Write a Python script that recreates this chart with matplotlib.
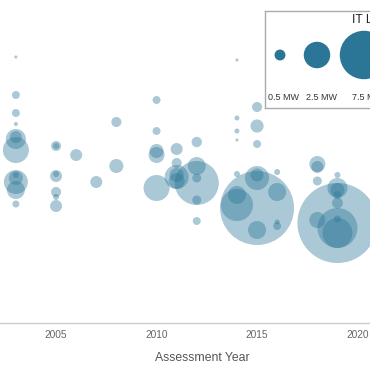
import matplotlib
matplotlib.use("Agg")
import matplotlib.pyplot as plt
import numpy as np

plt.rcParams['font.family'] = ['Liberation Sans', 'DejaVu Sans']

# ---- data: assessment year, score (arbitrary y units), IT load (MW)
years = [2003, 2003, 2003, 2003, 2003, 2003, 2003, 2003, 2003, 2003, 2003, 2003,
         2005, 2005, 2005, 2005, 2005, 2005, 2005,
         2006, 2007, 2008, 2008,
         2010, 2010, 2010, 2010, 2010,
         2011, 2011, 2011, 2011, 2011,
         2012, 2012, 2012, 2012, 2012, 2012,
         2014, 2014, 2014, 2014, 2014, 2014, 2014,
         2015, 2015, 2015, 2015, 2015, 2015, 2015,
         2016, 2016, 2016, 2016,
         2018, 2018, 2018, 2018,
         2019, 2019, 2019, 2019, 2019, 2019, 2019, 2019, 2019]
scores = [26.6, 22.8, 21.0, 19.9, 18.4, 18.6, 17.3, 14.1, 14.5, 13.3, 14.8, 11.9,
          17.7, 17.7, 14.7, 14.9, 13.1, 12.6, 11.7,
          16.8, 14.1, 20.1, 15.7,
          22.3, 19.2, 16.8, 17.2, 13.5,
          17.4, 16.0, 14.6, 14.8, 14.2,
          18.1, 15.7, 14.0, 14.5, 12.3, 10.2,
          26.3, 20.5, 19.2, 18.3, 14.9, 11.8, 12.8,
          21.6, 19.7, 17.9, 11.5, 14.5, 14.8, 9.3,
          15.1, 13.1, 9.7, 10.1,
          15.9, 15.6, 14.2, 10.3,
          14.8, 13.5, 13.3, 12.8, 12.0, 10.0, 9.5, 9.0, 10.4]
it_load = [0.05, 0.28, 0.28, 0.08, 1.5, 0.59, 2.42, 2.09, 0.79, 1.24, 0.17, 0.22,
           0.43, 0.17, 0.59, 0.17, 0.43, 0.17, 0.59,
           0.59, 0.59, 0.43, 0.79,
           0.28, 0.28, 1.0, 0.79, 2.42,
           0.59, 0.43, 2.09, 0.79, 1.0,
           0.45, 1.24, 6.29, 0.35, 0.35, 0.28,
           0.05, 0.12, 0.12, 0.05, 0.17, 3.53, 1.24,
           0.43, 0.7, 0.28, 16.2, 2.09, 0.7, 1.24,
           0.17, 1.24, 0.28, 0.12,
           1.0, 0.59, 0.35, 1.0,
           0.17, 1.5, 0.79, 0.28, 0.5, 18.65, 5.29, 3.14, 0.22]

legend_loads = [0.5, 2.5, 7.5]
legend_labels = ["0.5 MW", "2.5 MW", "7.5 MW"]
xticks = [2005, 2010, 2015, 2020]

COLOR = '#2b7697'
W = H = 370
DPI = 100


def radius_px(mw):
    return 8.0 * np.power(np.asarray(mw, dtype=float), 0.55)


def size_pts2(mw):
    r_pt = radius_px(mw) * 72.0 / DPI
    return (2 * r_pt) ** 2


fig = plt.figure(figsize=(W / DPI, H / DPI), dpi=DPI)
axis_y_px = 323
ax = fig.add_axes([0, (H - axis_y_px) / H, 1, axis_y_px / H])
ax.set_xlim(2002.21, 2020.62)
ax.set_ylim(0, 32.3)

ax.scatter(years, scores, s=size_pts2(it_load), color=COLOR, alpha=0.4,
           linewidths=0, clip_on=False)

for sp in ['top', 'right', 'left']:
    ax.spines[sp].set_visible(False)
ax.spines['bottom'].set_color('#cccccc')
ax.spines['bottom'].set_linewidth(1.0)
ax.set_yticks([])
ax.set_xticks(xticks)
ax.set_xticklabels([str(t) for t in xticks])
ax.tick_params(axis='x', length=0, pad=5, labelsize=7.3, labelcolor='#666666')

fig.text(202 / W, 1 - 358 / H, "Assessment Year", ha='center', va='center',
         fontsize=8.8, color='#555555')

# ---- size legend (partly outside the figure, as in the reference)
lx0, ly0, lw, lh = 265, 11, 205, 97
lax = fig.add_axes([lx0 / W, (H - ly0 - lh) / H, lw / W, lh / H])
lax.set_xlim(0, lw)
lax.set_ylim(0, lh)
lax.set_facecolor('white')
for sp in lax.spines.values():
    sp.set_color('#aaaaaa')
    sp.set_linewidth(1.0)
lax.set_xticks([])
lax.set_yticks([])
leg_x = [15, 52, 99]
lax.scatter(leg_x, [lh - 44] * 3, s=size_pts2(legend_loads), color=COLOR,
            linewidths=0, clip_on=False)
lab_x = [18, 57, 102]
for x, lab in zip(lab_x, legend_labels):
    lax.text(x, 11, lab, ha='center', va='center', fontsize=6.5, color='#333333')
lax.text(87, lh - 9, "IT Load", ha='left', va='center', fontsize=8.7,
         color='#222222')

fig.savefig("out.png", dpi=DPI)
